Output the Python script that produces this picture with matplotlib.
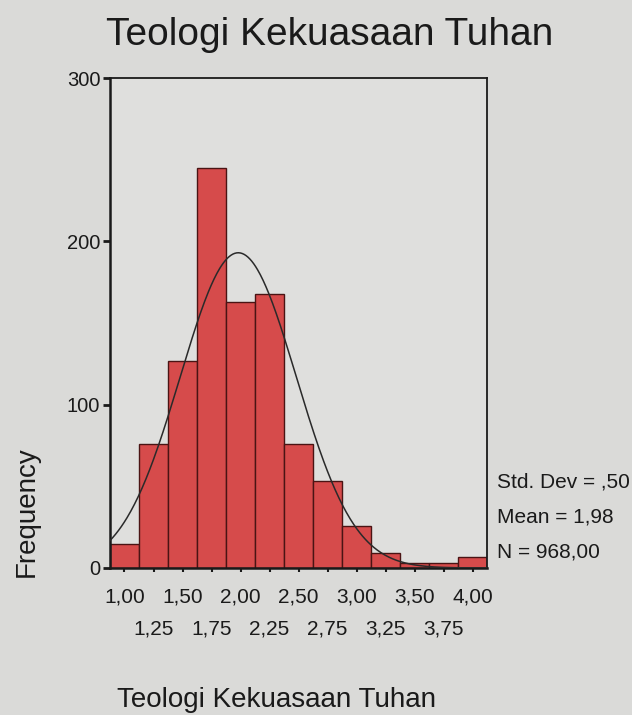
import numpy as np
import matplotlib
matplotlib.use("Agg")
import matplotlib.pyplot as plt

plt.rcParams['font.family'] = ['Liberation Sans', 'DejaVu Sans']

# Data
bin_centers = [1.00, 1.25, 1.50, 1.75, 2.00, 2.25, 2.50, 2.75, 3.00, 3.25, 3.50, 3.75, 4.00]
frequencies = [15, 76, 127, 245, 163, 168, 76, 53, 26, 9, 3, 3, 7]
tick_labels = ["1,00", "1,25", "1,50", "1,75", "2,00", "2,25", "2,50",
               "2,75", "3,00", "3,25", "3,50", "3,75", "4,00"]
std_dev = 0.50
mean = 1.98
n_total = 968
bin_width = 0.25

fig = plt.figure(figsize=(6.32, 7.15), dpi=100, facecolor='#dadad8')
ax = fig.add_axes([0.174, 0.2056, 0.597, 0.685], facecolor='#dfdfdd')

ax.bar(bin_centers, frequencies, width=bin_width, color='#d64b4b',
       edgecolor='#4a1414', linewidth=1.0, zorder=2)

# Normal curve
xs = np.linspace(0.875, 4.125, 400)
ys = n_total * bin_width / (std_dev * np.sqrt(2 * np.pi)) * np.exp(-0.5 * ((xs - mean) / std_dev) ** 2)
ax.plot(xs, ys, color='#2a2a2a', linewidth=1.1, zorder=3)

ax.set_xlim(0.875, 4.125)
ax.set_ylim(0, 300)

ax.set_yticks([0, 100, 200, 300])
ax.set_yticklabels(["0", "100", "200", "300"], fontsize=14.5)
ax.tick_params(axis='y', direction='out', length=5, width=2, pad=2, colors='#1a1a1a')

# Staggered x tick labels: first row on major ticks, second row on minor ticks
ax.set_xticks(bin_centers[::2])
ax.set_xticklabels(tick_labels[::2], fontsize=15)
ax.set_xticks(bin_centers[1::2], minor=True)
ax.set_xticklabels(tick_labels[1::2], minor=True, fontsize=15)
ax.tick_params(axis='x', which='major', direction='out', length=3, width=1.5, pad=11, colors='#1a1a1a')
ax.tick_params(axis='x', which='minor', direction='out', length=3, width=1.5, pad=34, colors='#1a1a1a')

for s in ax.spines.values():
    s.set_color('#1a1a1a')
    s.set_linewidth(1.3)
ax.spines['left'].set_linewidth(1.8)
ax.spines['bottom'].set_linewidth(1.8)

fig.text(0.521, 0.951, "Teologi Kekuasaan Tuhan", ha='center', va='center',
         fontsize=28, color='#1a1a1a')
fig.text(0.043, 0.284, "Frequency", rotation=90, ha='center', va='center',
         fontsize=20, color='#1a1a1a')
fig.text(0.437, 0.021, "Teologi Kekuasaan Tuhan", ha='center', va='center',
         fontsize=20, color='#1a1a1a')

stats = ["Std. Dev = ,50", "Mean = 1,98", "N = 968,00"]
for i, t in enumerate(stats):
    fig.text(0.786, 0.326 - i * 0.049, t, ha='left', va='center', fontsize=15, color='#1a1a1a')

fig.savefig("out.png", dpi=100, facecolor=fig.get_facecolor())
